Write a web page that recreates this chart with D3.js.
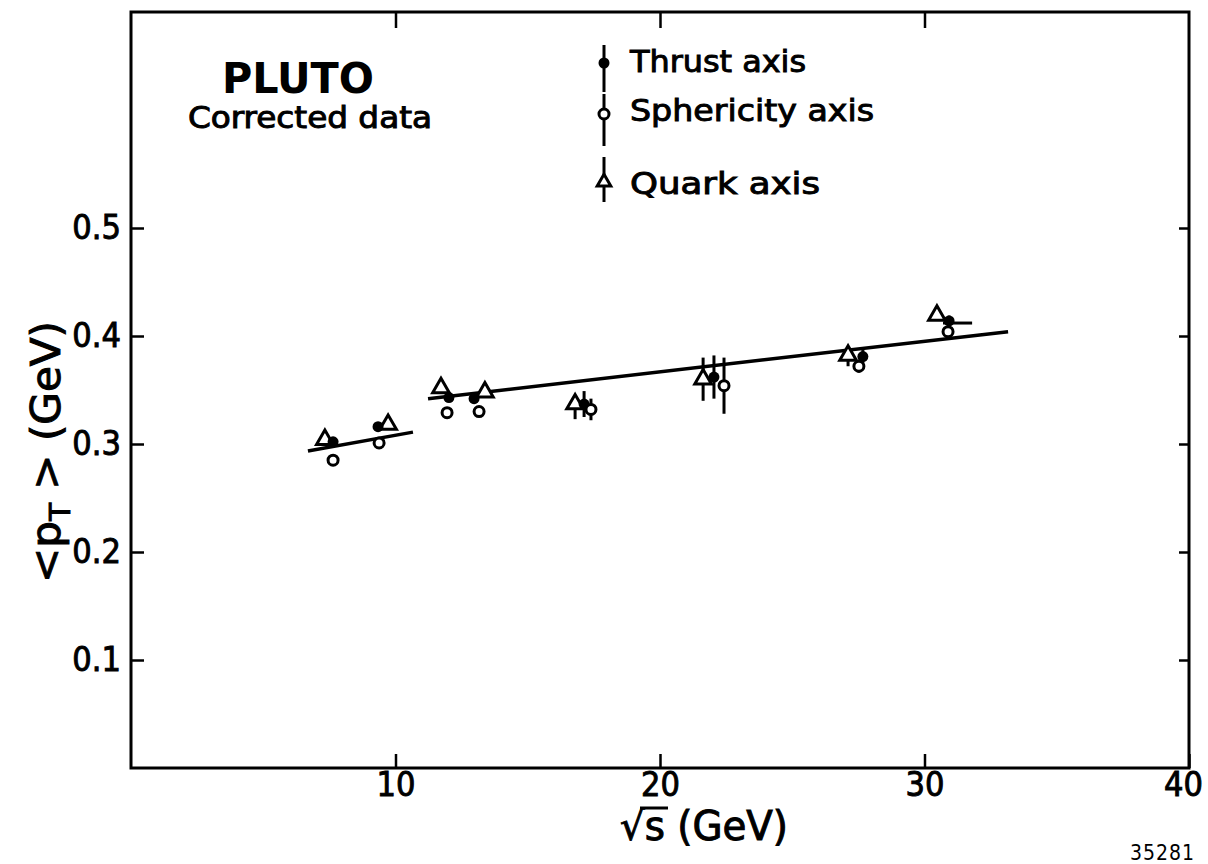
<!DOCTYPE html>
<html>
<head>
<meta charset="utf-8">
<script src="https://cdn.jsdelivr.net/npm/d3@7"></script>
<style>
  body { margin: 0; background: #fff; }
  svg { display: block; }
  text { font-family: "DejaVu Sans Condensed", "DejaVu Sans", sans-serif; fill: #000; }
</style>
</head>
<body>
<svg id="chart" width="1208" height="864"></svg>
<script>
// ---- data ----
const xTicks = [10, 20, 30, 40];
const yTicks = [0.1, 0.2, 0.3, 0.4, 0.5];
const yTickLabels = ["0.1", "0.2", "0.3", "0.4", "0.5"];

// Thrust axis (filled circles): [sqrt(s), <pT>, errLow, errHigh]
const thrust = [
  [7.64, 0.302, 0, 0], [9.34, 0.316, 0, 0], [12.02, 0.343, 0, 0], [12.97, 0.342, 0, 0],
  [17.13, 0.337, 0.012, 0.012], [22.04, 0.362, 0.020, 0.020], [27.67, 0.381, 0.006, 0.006], [30.93, 0.414, 0.005, 0.005]
];
// Sphericity axis (open circles)
const sphericity = [
  [7.64, 0.285, 0, 0], [9.38, 0.301, 0, 0], [11.95, 0.329, 0, 0], [13.16, 0.330, 0, 0],
  [17.39, 0.332, 0.010, 0.010], [22.42, 0.354, 0.026, 0.026], [27.52, 0.372, 0.006, 0.006], [30.89, 0.404, 0, 0]
];
// Quark axis (open triangles)
const quark = [
  [7.33, 0.304, 0, 0], [9.72, 0.318, 0, 0], [11.72, 0.352, 0, 0], [13.38, 0.348, 0, 0],
  [16.79, 0.337, 0.014, 0.008], [21.63, 0.360, 0.020, 0.020], [27.11, 0.382, 0.010, 0.004], [30.47, 0.419, 0, 0]
];
// horizontal bar at highest thrust point
const thrustXBar = [[30.70, 31.80, 0.412]];
// fitted lines
const fitLow = [[6.69, 0.2935], [10.66, 0.311]];
const fitHigh = [[11.23, 0.342], [33.16, 0.404]];

const legendItems = ["Thrust axis", "Sphericity axis", "Quark axis"];

// ---- layout ----
const svg = d3.select("#chart");
const L = 131, R = 1189, T = 12, B = 768;
const x = d3.scaleLinear().domain([0, 40]).range([L, R]);
const y = d3.scaleLinear().domain([0, 0.7]).range([B, B - 0.7 * 1080]);
const ink = sel => sel.attr("stroke", "#000").attr("stroke-width", 0.9);

// frame
svg.append("rect").attr("x", L).attr("y", T).attr("width", R - L).attr("height", B - T)
  .attr("fill", "none").attr("stroke", "#000").attr("stroke-width", 3);

// axes (ticks inward)
const fs = 34;
const gB = svg.append("g").attr("transform", `translate(0,${B})`)
  .call(d3.axisBottom(x).tickValues(xTicks).tickSize(-14).tickFormat(d3.format("d")).tickPadding(4));
const gT = svg.append("g").attr("transform", `translate(0,${T})`)
  .call(d3.axisTop(x).tickValues(xTicks.slice(0, 3)).tickSize(-16).tickFormat(""));
const gL = svg.append("g").attr("transform", `translate(${L},0)`)
  .call(d3.axisLeft(y).tickValues(yTicks).tickSize(-13).tickFormat((d, i) => yTickLabels[i]).tickPadding(10));
const gR = svg.append("g").attr("transform", `translate(${R},0)`)
  .call(d3.axisRight(y).tickValues(yTicks).tickSize(-10).tickFormat(""));
[gB, gT, gL, gR].forEach(g => {
  g.select(".domain").remove();
  g.selectAll(".tick line").attr("stroke", "#000").attr("stroke-width", 2.5);
  g.selectAll(".tick text").attr("font-size", fs).attr("fill", "#000")
    .style("font-family", '"DejaVu Sans Condensed", "DejaVu Sans", sans-serif').call(ink);
});
gB.selectAll(".tick").filter(d => d === 40).select("text").attr("dx", -6);

// fit lines
const line = d3.line().x(d => x(d[0])).y(d => y(d[1]));
[fitLow, fitHigh].forEach(f => svg.append("path").attr("d", line(f))
  .attr("fill", "none").attr("stroke", "#000").attr("stroke-width", 3.5));

// error bars
function errBars(data) {
  svg.append("g").selectAll("line").data(data.filter(d => d[2] + d[3] > 0)).join("line")
    .attr("x1", d => x(d[0])).attr("x2", d => x(d[0]))
    .attr("y1", d => y(d[1] - d[2])).attr("y2", d => y(d[1] + d[3]))
    .attr("stroke", "#000").attr("stroke-width", 3);
}
errBars(quark); errBars(thrust); errBars(sphericity);
svg.append("g").selectAll("line").data(thrustXBar).join("line")
  .attr("x1", d => x(d[0])).attr("x2", d => x(d[1]))
  .attr("y1", d => y(d[2])).attr("y2", d => y(d[2]))
  .attr("stroke", "#000").attr("stroke-width", 3);

// markers
const tri = d3.symbol().type(d3.symbolTriangle).size(120);
function drawQuark(g, px, py, s) {
  g.append("path").attr("d", d3.symbol().type(d3.symbolTriangle).size(s || 120)())
    .attr("transform", `translate(${px},${py})`)
    .attr("fill", "#fff").attr("stroke", "#000").attr("stroke-width", 3);
}
function drawThrust(g, px, py) {
  g.append("circle").attr("cx", px).attr("cy", py).attr("r", 5.5).attr("fill", "#000");
}
function drawSph(g, px, py) {
  g.append("circle").attr("cx", px).attr("cy", py).attr("r", 5)
    .attr("fill", "#fff").attr("stroke", "#000").attr("stroke-width", 3);
}
const gm = svg.append("g");
quark.forEach(d => drawQuark(gm, x(d[0]), y(d[1])));
thrust.forEach(d => drawThrust(gm, x(d[0]), y(d[1])));
sphericity.forEach(d => drawSph(gm, x(d[0]), y(d[1])));

// title block
svg.append("text").attr("x", 222).attr("y", 93).attr("font-size", 42).attr("font-weight", "bold")
  .attr("textLength", 152).attr("lengthAdjust", "spacingAndGlyphs").text("PLUTO");
svg.append("text").attr("x", 188).attr("y", 128).attr("font-size", 30)
  .attr("textLength", 244).attr("lengthAdjust", "spacingAndGlyphs").text("Corrected data").call(ink);

// legend
const lg = svg.append("g");
const legY = [72, 121, 194];
const legMarkX = 604;
[[45, 92], [94, 146], [157, 202]].forEach(b => lg.append("line")
  .attr("x1", legMarkX).attr("x2", legMarkX).attr("y1", b[0]).attr("y2", b[1])
  .attr("stroke", "#000").attr("stroke-width", 3));
drawThrust(lg, legMarkX, 63);
drawSph(lg, legMarkX, 114);
drawQuark(lg, legMarkX, 182, 80);
const legW = [176, 244, 190];
legendItems.forEach((t, i) => lg.append("text").attr("x", 630).attr("y", legY[i]).attr("font-size", 31)
  .attr("textLength", legW[i]).attr("lengthAdjust", "spacingAndGlyphs").text(t).call(ink));

// y axis label
const yl = svg.append("text").attr("transform", "translate(60,452) rotate(-90)")
  .attr("text-anchor", "middle").attr("font-size", 40).attr("textLength", 262)
  .attr("lengthAdjust", "spacingAndGlyphs").call(ink);
yl.append("tspan").text("<p");
yl.append("tspan").attr("font-size", 28).attr("dy", 10).text("T");
yl.append("tspan").attr("dy", -10).text(" > (GeV)");

// x axis label
svg.append("text").attr("x", 704).attr("y", 840).attr("text-anchor", "middle").attr("font-size", 40)
  .attr("textLength", 168).attr("lengthAdjust", "spacingAndGlyphs").text("√s (GeV)").call(ink);
svg.append("line").attr("x1", 640).attr("x2", 668).attr("y1", 808).attr("y2", 808)
  .attr("stroke", "#000").attr("stroke-width", 3);

// plate number
svg.append("text").attr("x", 1195).attr("y", 860).attr("text-anchor", "end").attr("font-size", 21)
  .attr("letter-spacing", 1).text("35281");
</script>
</body>
</html>
